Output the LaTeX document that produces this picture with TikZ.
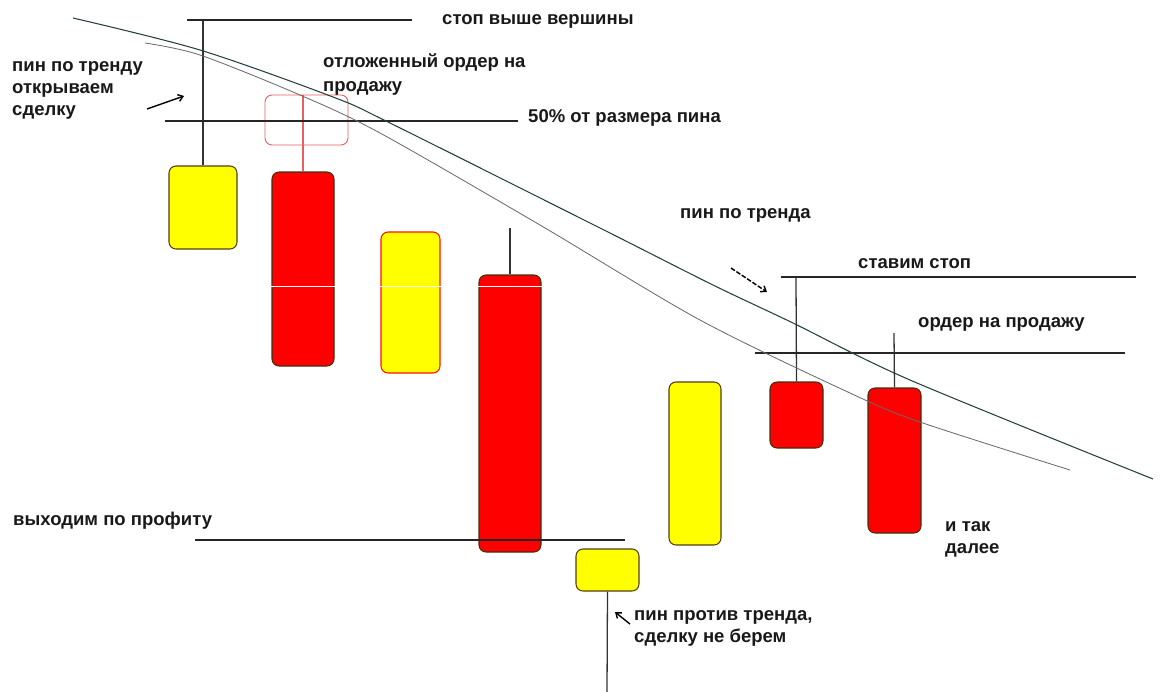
\documentclass[tikz,border=0pt]{standalone}
\usepackage{fontspec}
\setmainfont{Liberation Sans}
\usetikzlibrary{fit,arrows.meta}

\definecolor{candleyel}{RGB}{255,255,0}
\definecolor{candlered}{RGB}{255,0,0}
\definecolor{candleedge}{RGB}{80,60,20}
\definecolor{trenddark}{RGB}{35,65,65}
\definecolor{trendgrey}{RGB}{105,105,105}
\definecolor{pendred}{RGB}{232,96,96}
\definecolor{labeltxt}{RGB}{25,25,25}

\tikzset{
  yelcandle/.style={draw=candleedge, fill=candleyel, line width=0.9pt, rounded corners=6pt, inner sep=0pt},
  redcandle/.style={draw=candleedge!80!black, fill=candlered, line width=0.9pt, rounded corners=6pt, inner sep=0pt},
  pendbox/.style={draw=pendred, line width=0.8pt, rounded corners=6pt, inner sep=0pt},
  wick/.style={draw=black!80, line width=1.1pt},
  level/.style={draw=black!85, line width=1.1pt},
  trendup/.style={draw=trenddark, line width=0.9pt},
  trendlow/.style={draw=trendgrey, line width=0.7pt},
  pointer/.style={draw=black, line width=1.2pt, -{Straight Barb[length=4pt,width=6pt]}},
  lbl/.style={anchor=base west, inner sep=0pt, align=left, text=labeltxt,
    font=\bfseries\fontsize{15.8}{18.7}\selectfont}
}

\begin{document}
\begin{tikzpicture}[x=0.03cm,y=-0.03cm]
  \fill[white] (0,0) rectangle (1162,692);
  \useasboundingbox (0,0) rectangle (1162,692);

  % candles
  \node[yelcandle, fit={(169,166) (237,249)}] (c1) {};
  \node[redcandle, fit={(272,172) (334,366)}] (c2) {};
  \node[yelcandle, draw=candlered!85!orange, fit={(381,232) (440,373)}] (c3) {};
  \node[redcandle, fit={(479,275) (541,552)}] (c4) {};
  \node[yelcandle, fit={(576,549) (639,591)}] (c5) {};
  \node[yelcandle, fit={(669,382) (721,545)}] (c6) {};
  \node[redcandle, fit={(770,382) (823,448)}] (c7) {};
  \node[redcandle, fit={(868,388) (921,533)}] (c8) {};
  \node[pendbox, fit={(265,95) (348,145)}] (pend) {};

  \draw[white, line width=0.6pt] (265,286) -- (545,286);

  % wicks
  \coordinate (c1hi) at (203,20);
  \coordinate (c4hi) at (510,228);
  \coordinate (c5lo) at (607,692);
  \coordinate (c7hi) at (796,277);
  \coordinate (c8hi) at (894,333);
  \draw[wick] (c1.north) -- (c1hi);
  \draw[draw=pendred, line width=1pt] (c2.north) -- (pend.north -| c2.north);
  \draw[wick] (c4.north) -- (c4hi);
  \draw[wick] (c5.south) -- (c5lo);
  \draw[wick] (c7.north) -- (c7hi);
  \draw[wick] (c8.north) -- (c8hi);

  % levels
  \coordinate (stopA) at (187,20);   \coordinate (stopB) at (412,20);
  \coordinate (halfA) at (165,121);  \coordinate (halfB) at (518,121);
  \coordinate (profA) at (195,540);  \coordinate (profB) at (625,540);
  \coordinate (stopC) at (781,277);  \coordinate (stopD) at (1136,277);
  \coordinate (sellA) at (755,353);  \coordinate (sellB) at (1125,353);
  \draw[level] (stopA) -- (stopB);
  \draw[level] (halfA) -- (halfB);
  \draw[level] (profA) -- (profB);
  \draw[level] (stopC) -- (stopD);
  \draw[level] (sellA) -- (sellB);

  % trend lines
  \draw[trendup] plot[smooth, tension=0.5] coordinates {(73,18) (200,50) (333,97) (390,123) (600,228) (713,285) (793,323) (910,380) (1153,479)};
  \draw[trendlow] plot[smooth, tension=0.5] coordinates {(145,43) (200,55) (300,95) (380,133) (540,225) (700,320) (850,393) (920,422) (1070,470)};

  % labels (multi-line ones sit on the baseline of their last line)
  \node[lbl] (tStop) at (442,24) {стоп выше вершины};
  \node[lbl] (tOpen) at (12,115) {пин по тренду\\открываем\\сделку};
  \node[lbl, font=\bfseries\fontsize{15.8}{20.4}\selectfont] (tPend) at (323,91) {отложенный ордер на\\продажу};
  \node[lbl] (tHalf) at (528,122) {50\% от размера пина};
  \node[lbl] (tTrend) at (680,218) {пин по тренда};
  \node[lbl] (tSetStop) at (858,268) {ставим стоп};
  \node[lbl] (tSell) at (918,327) {ордер на продажу};
  \node[lbl] (tProfit) at (13,525) {выходим по профиту};
  \node[lbl] (tMore) at (945,553) {и так\\далее};
  \node[lbl] (tAgainst) at (634,642) {пин против тренда,\\сделку не берем};

  % pointers
  \coordinate (p1a) at (147,109); \coordinate (p1b) at (184,96);
  \coordinate (p2a) at (731,268); \coordinate (p2b) at (767,292);
  \coordinate (p3a) at (630,624); \coordinate (p3b) at (615,612);
  \draw[pointer] (p1a) -- (p1b);
  \draw[pointer, dashed, dash pattern=on 4pt off 1.5pt] (p2a) -- (p2b);
  \draw[pointer] (p3a) -- (p3b);
\end{tikzpicture}
\end{document}
